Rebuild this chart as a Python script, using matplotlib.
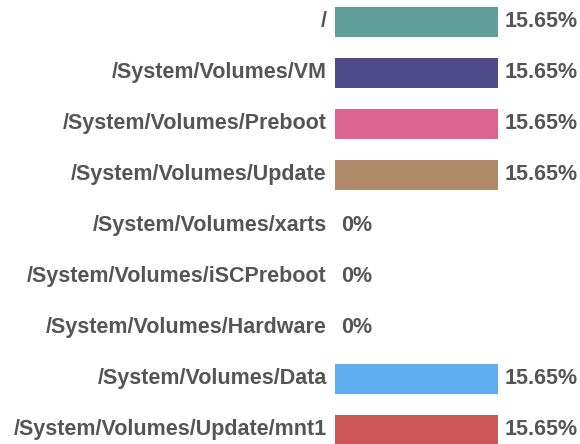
import matplotlib.pyplot as plt

plt.rcParams["font.family"] = ["Liberation Sans", "DejaVu Sans"]

mounts = [
    "/",
    "/System/Volumes/VM",
    "/System/Volumes/Preboot",
    "/System/Volumes/Update",
    "/System/Volumes/xarts",
    "/System/Volumes/iSCPreboot",
    "/System/Volumes/Hardware",
    "/System/Volumes/Data",
    "/System/Volumes/Update/mnt1",
]
usage = [15.65, 15.65, 15.65, 15.65, 0, 0, 0, 15.65, 15.65]
colors = ["#5f9e9a", "#4f4a8a", "#dc6590", "#b08a68", "#888888",
          "#888888", "#888888", "#5eaef0", "#cd5757"]

text_color = "#555555"

fig = plt.figure(figsize=(5.8, 4.44), dpi=100)
ax = fig.add_axes([335 / 580, 0, 163 / 580, 1])

pos = list(range(len(mounts)))
ax.barh(pos, usage, height=0.59, color=colors)

ax.set_xlim(0, max(usage))
ax.set_ylim(8.275, -0.431)

for y, name, v in zip(pos, mounts, usage):
    ax.annotate(name, xy=(0, y), xytext=(-6, 0), textcoords="offset points",
                ha="right", va="center", fontsize=15.5, fontweight="bold",
                color=text_color, annotation_clip=False)
    label = f"{v:g}%" if v == 0 else f"{v:.2f}%"
    ax.annotate(label, xy=(v, y), xytext=(4.5, 0), textcoords="offset points",
                ha="left", va="center", fontsize=15.5, fontweight="bold",
                color=text_color, annotation_clip=False)

ax.axis("off")

fig.savefig("out.png", dpi=100)
